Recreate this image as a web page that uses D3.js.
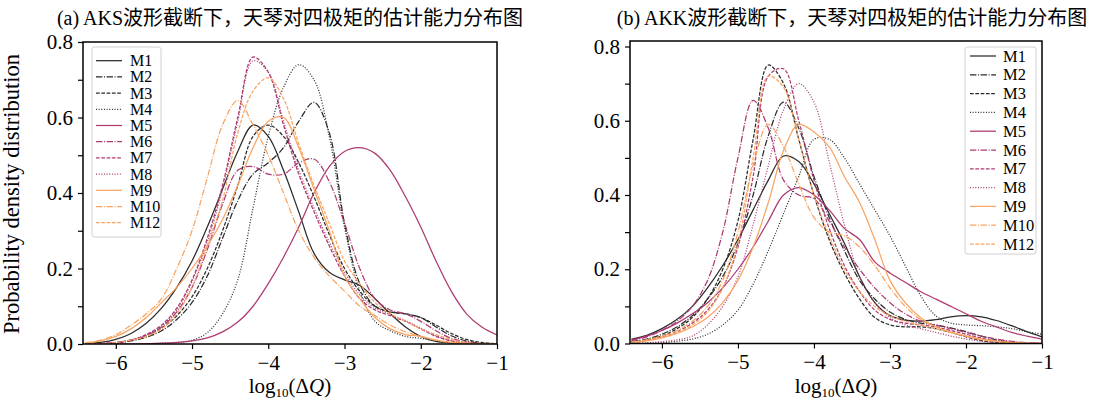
<!DOCTYPE html>
<html><head><meta charset="utf-8">
<script src="https://cdn.jsdelivr.net/npm/d3@7"></script>
<style>
body{margin:0;background:#fff}
svg{display:block}
text{font-family:"Liberation Serif","Times New Roman","Noto Sans CJK SC",serif;fill:#000}
</style>
</head><body><svg id="c" width="1095" height="407"></svg>
<script>
// ---------- data ----------
const xGrid = [-6.4,-6.2,-6.0,-5.8,-5.6,-5.4,-5.2,-5.0,-4.8,-4.6,-4.4,-4.2,-4.0,-3.8,-3.6,-3.4,-3.2,-3.0,-2.8,-2.6,-2.4,-2.2,-2.0,-1.8,-1.6,-1.4,-1.2,-1.0];
const seriesNames = ["M1","M2","M3","M4","M5","M6","M7","M8","M9","M10","M12"];
const xTicks = [-6,-5,-4,-3,-2,-1];
const yTicks = [0,0.1,0.2,0.3,0.4,0.5,0.6,0.7,0.8];
const yTickLabels = ["0.0","","0.2","","0.4","","0.6","","0.8"];
const titleA = "(a) AKS波形截断下，天琴对四极矩的估计能力分布图";
const titleB = "(b) AKK波形截断下，天琴对四极矩的估计能力分布图";

// (a) AKS
const aksM1  = [0.001,0.004,0.012,0.028,0.055,0.095,0.15,0.22,0.31,0.41,0.51,0.58,0.55,0.46,0.35,0.24,0.19,0.17,0.155,0.12,0.08,0.045,0.02,0.007,0.003,0.001,0,0];
const aksM2  = [0,0.001,0.003,0.008,0.018,0.035,0.065,0.11,0.18,0.28,0.38,0.45,0.48,0.52,0.59,0.64,0.56,0.32,0.16,0.10,0.085,0.08,0.07,0.045,0.022,0.008,0.002,0];
const aksM3  = [0,0.001,0.004,0.01,0.022,0.042,0.075,0.125,0.2,0.3,0.42,0.55,0.58,0.55,0.48,0.39,0.29,0.2,0.14,0.10,0.085,0.08,0.07,0.05,0.028,0.012,0.004,0.001];
const aksM4  = [0,0,0,0,0.001,0.002,0.004,0.01,0.03,0.08,0.17,0.36,0.55,0.68,0.74,0.70,0.55,0.31,0.14,0.06,0.035,0.02,0.015,0.008,0.003,0.001,0,0];
const aksM5  = [0,0,0,0,0.001,0.002,0.004,0.008,0.016,0.032,0.058,0.1,0.16,0.23,0.31,0.40,0.47,0.51,0.52,0.505,0.46,0.39,0.31,0.22,0.14,0.08,0.045,0.024];
const aksM6  = [0,0.001,0.004,0.01,0.022,0.045,0.085,0.15,0.25,0.37,0.46,0.47,0.45,0.45,0.48,0.49,0.43,0.32,0.2,0.12,0.09,0.08,0.06,0.035,0.015,0.005,0.001,0];
const aksM7  = [0,0.001,0.004,0.01,0.025,0.05,0.095,0.17,0.28,0.42,0.60,0.76,0.72,0.58,0.45,0.35,0.26,0.18,0.12,0.09,0.075,0.06,0.04,0.02,0.008,0.002,0,0];
const aksM8  = [0,0.001,0.004,0.01,0.024,0.048,0.09,0.165,0.27,0.41,0.59,0.75,0.72,0.59,0.46,0.36,0.27,0.19,0.13,0.095,0.078,0.062,0.042,0.022,0.009,0.003,0,0];
const aksM9  = [0.002,0.008,0.02,0.04,0.07,0.11,0.15,0.2,0.26,0.33,0.42,0.52,0.59,0.60,0.52,0.41,0.30,0.18,0.12,0.07,0.04,0.025,0.02,0.01,0.004,0.001,0,0];
const aksM10 = [0.003,0.01,0.025,0.05,0.08,0.12,0.2,0.3,0.44,0.58,0.645,0.58,0.50,0.40,0.30,0.23,0.18,0.14,0.10,0.075,0.05,0.032,0.02,0.01,0.004,0.001,0,0];
const aksM12 = [0,0.001,0.004,0.01,0.02,0.04,0.08,0.15,0.26,0.38,0.56,0.67,0.705,0.65,0.53,0.42,0.32,0.22,0.16,0.11,0.08,0.06,0.04,0.025,0.012,0.004,0.001,0];

// (b) AKK
const akkM1  = [0.012,0.022,0.04,0.065,0.10,0.15,0.21,0.28,0.36,0.44,0.505,0.49,0.43,0.35,0.27,0.18,0.11,0.075,0.063,0.06,0.064,0.072,0.075,0.072,0.062,0.048,0.032,0.018];
const akkM2  = [0.005,0.012,0.025,0.045,0.075,0.12,0.18,0.27,0.40,0.56,0.65,0.58,0.45,0.34,0.25,0.17,0.12,0.085,0.065,0.055,0.05,0.042,0.032,0.02,0.01,0.004,0.001,0];
const akkM3  = [0.004,0.01,0.02,0.04,0.07,0.12,0.2,0.33,0.55,0.75,0.70,0.55,0.40,0.28,0.19,0.12,0.07,0.05,0.045,0.045,0.04,0.03,0.018,0.008,0.003,0.001,0,0];
const akkM4  = [0,0,0.002,0.006,0.012,0.025,0.05,0.09,0.16,0.25,0.35,0.45,0.55,0.55,0.50,0.43,0.36,0.29,0.21,0.13,0.075,0.055,0.05,0.048,0.045,0.04,0.032,0.025];
const akkM5  = [0.01,0.02,0.035,0.055,0.08,0.11,0.15,0.2,0.26,0.33,0.40,0.42,0.40,0.36,0.31,0.28,0.22,0.19,0.165,0.14,0.12,0.10,0.08,0.06,0.045,0.03,0.02,0.012];
const akkM6  = [0.008,0.018,0.035,0.06,0.10,0.17,0.3,0.5,0.655,0.58,0.44,0.40,0.39,0.33,0.26,0.2,0.15,0.11,0.08,0.06,0.05,0.04,0.03,0.02,0.012,0.006,0.002,0];
const akkM7  = [0.003,0.008,0.017,0.032,0.055,0.09,0.15,0.26,0.45,0.72,0.74,0.60,0.44,0.31,0.21,0.14,0.09,0.065,0.055,0.05,0.045,0.035,0.025,0.015,0.007,0.003,0.001,0];
const akkM8  = [0,0.002,0.005,0.01,0.02,0.05,0.10,0.18,0.32,0.48,0.63,0.70,0.65,0.49,0.32,0.18,0.11,0.07,0.05,0.04,0.03,0.02,0.012,0.006,0.002,0.001,0,0];
const akkM9  = [0.003,0.007,0.015,0.027,0.045,0.07,0.11,0.17,0.26,0.38,0.52,0.59,0.57,0.53,0.45,0.38,0.28,0.17,0.11,0.07,0.045,0.03,0.02,0.012,0.006,0.003,0.001,0];
const akkM10 = [0.004,0.01,0.02,0.035,0.06,0.1,0.17,0.3,0.48,0.59,0.53,0.43,0.34,0.30,0.29,0.26,0.21,0.15,0.10,0.065,0.045,0.03,0.02,0.01,0.005,0.002,0.001,0];
const akkM12 = [0.003,0.008,0.016,0.03,0.05,0.085,0.15,0.27,0.5,0.72,0.69,0.55,0.40,0.29,0.20,0.14,0.10,0.075,0.06,0.05,0.04,0.03,0.02,0.012,0.006,0.002,0.001,0];

// ---------- styles ----------
const dark = "#2b2b2b", plum = "#ad3a72", orange = "#f8a462";
const styleOf = {
  M1:{c:dark,d:null}, M2:{c:dark,d:"6.4,1.6,1,1.6"}, M3:{c:dark,d:"3.7,1.6"}, M4:{c:dark,d:"1,1.65"},
  M5:{c:plum,d:null}, M6:{c:plum,d:"6.4,1.6,1,1.6"}, M7:{c:plum,d:"3.7,1.6"}, M8:{c:plum,d:"1,1.65"},
  M9:{c:orange,d:null}, M10:{c:orange,d:"6.4,1.6,1,1.6"}, M12:{c:orange,d:"3.7,1.6"}
};

const svg = d3.select("#c");

function panel(cfg){
  const x = d3.scaleLinear().domain(cfg.xDomain).range([cfg.left, cfg.right]);
  const y = d3.scaleLinear().domain([0,0.8]).range([cfg.y0, cfg.y8]);
  const g = svg.append("g");
  const clipId = "clip"+cfg.id;
  svg.append("clipPath").attr("id",clipId).append("rect")
    .attr("x",cfg.left).attr("y",cfg.top).attr("width",cfg.right-cfg.left).attr("height",cfg.y0-cfg.top);
  const line = d3.line().x((d,i)=>x(xGrid[i])).y(d=>y(Math.max(0,d))).curve(d3.curveCatmullRom.alpha(0.5));
  const lines = g.append("g").attr("clip-path",`url(#${clipId})`);
  seriesNames.forEach((n,k)=>{
    const s = styleOf[n];
    lines.append("path").datum(cfg.data[k]).attr("d",line)
      .attr("fill","none").attr("stroke",s.c).attr("stroke-width",1.25)
      .attr("stroke-dasharray",s.d);
  });
  // frame
  g.append("rect").attr("x",cfg.left).attr("y",cfg.top).attr("width",cfg.right-cfg.left)
    .attr("height",cfg.y0-cfg.top).attr("fill","none").attr("stroke","#000").attr("stroke-width",1.5);
  // x axis
  const xa = g.append("g").attr("transform",`translate(0,${cfg.y0})`)
    .call(d3.axisBottom(x).tickValues(xTicks).tickSize(5).tickSizeOuter(0).tickPadding(6)
      .tickFormat(d=>d3.format("d")(d).replace("-","\u2212")));
  xa.select(".domain").remove();
  xa.selectAll("line").attr("stroke","#000").attr("stroke-width",1.2);
  xa.selectAll("text").attr("font-size",21).attr("font-family","Liberation Serif");
  // y axis
  const ya = g.append("g").attr("transform",`translate(${cfg.left},0)`)
    .call(d3.axisLeft(y).tickValues(yTicks).tickSize(5).tickSizeOuter(0).tickPadding(5)
      .tickFormat((d,i)=>yTickLabels[i]));
  ya.select(".domain").remove();
  ya.selectAll("line").attr("stroke","#000").attr("stroke-width",1.2);
  ya.selectAll("text").attr("font-size",21).attr("font-family","Liberation Serif");
  // x label
  const xl = g.append("text").attr("x",(cfg.left+cfg.right)/2).attr("y",393)
    .attr("text-anchor","middle").attr("font-size",21);
  xl.append("tspan").text("log");
  xl.append("tspan").text("10").attr("font-size",13).attr("dy",4);
  xl.append("tspan").text("(\u0394").attr("dy",-4);
  xl.append("tspan").text("Q").attr("font-style","italic");
  xl.append("tspan").text(")");
  // title
  g.append("text").attr("x",cfg.titleX).attr("y",25).attr("text-anchor","middle")
    .attr("font-size",20).text(cfg.title);
  // legend
  const L = cfg.legend;
  const lg = g.append("g");
  lg.append("rect").attr("x",L.x).attr("y",L.y).attr("width",L.w).attr("height",L.h)
    .attr("rx",2.5).attr("fill","#fff").attr("fill-opacity",0.85).attr("stroke","#d0d0d0").attr("stroke-width",1);
  seriesNames.forEach((n,k)=>{
    const s = styleOf[n];
    const cy = L.y0 + k*L.step;
    lg.append("line").attr("x1",L.lx1).attr("x2",L.lx2).attr("y1",cy).attr("y2",cy)
      .attr("stroke",s.c).attr("stroke-width",1.25).attr("stroke-dasharray",s.d);
    lg.append("text").attr("x",L.tx).attr("y",cy+L.fs*0.34).attr("font-size",L.fs).text(n);
  });
}

panel({id:"a", xDomain:[-6.43,-1], left:83, right:497, top:42, y0:344, y8:42,
  data:[aksM1,aksM2,aksM3,aksM4,aksM5,aksM6,aksM7,aksM8,aksM9,aksM10,aksM12],
  title:titleA, titleX:290,
  legend:{x:92,y:47,w:69,h:190,y0:60.7,step:16.2,lx1:96,lx2:122,tx:130,fs:16}});

panel({id:"b", xDomain:[-6.42,-1], left:630, right:1042, top:41, y0:343.5, y8:46.5,
  data:[akkM1,akkM2,akkM3,akkM4,akkM5,akkM6,akkM7,akkM8,akkM9,akkM10,akkM12],
  title:titleB, titleX:852,
  legend:{x:965,y:47,w:71,h:207,y0:56,step:18.8,lx1:970,lx2:996,tx:1003,fs:16.5}});

// y label
svg.append("text").attr("transform","translate(19,194) rotate(-90)").attr("text-anchor","middle")
  .attr("font-size",22.5).text("Probability density distribution");
</script>
</body></html>
